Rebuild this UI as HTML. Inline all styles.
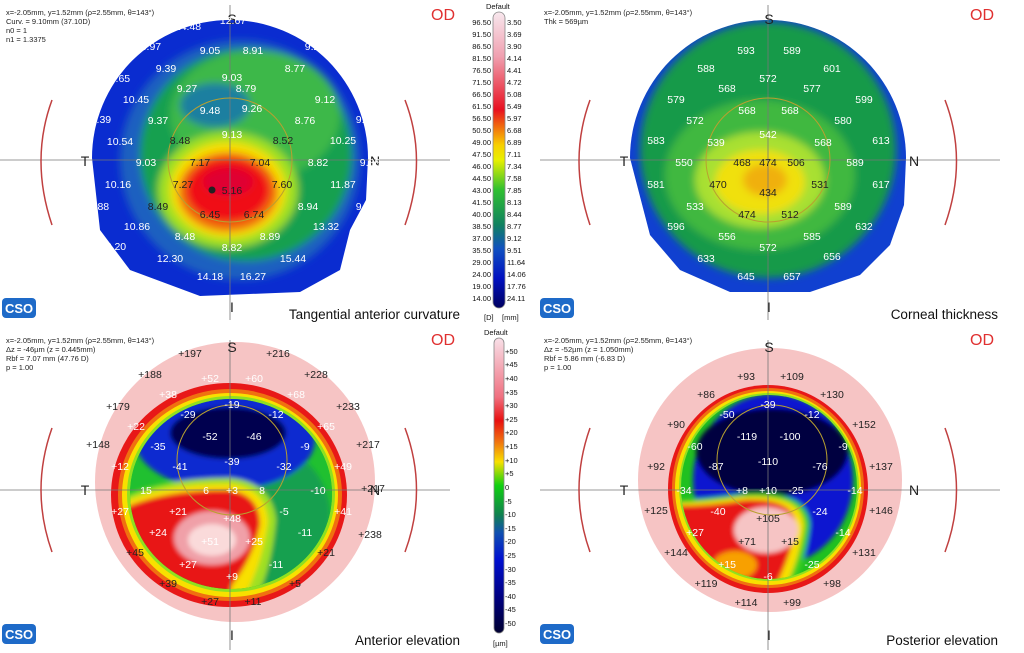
<!DOCTYPE html>
<html><head><meta charset="utf-8"><style>
body{margin:0;background:#fff;}
svg{display:block;font-family:"Liberation Sans",sans-serif;}
.w{fill:#fff;font-size:10.5px;text-anchor:middle;}
.k{fill:#222;font-size:10.5px;text-anchor:middle;}
.h{fill:#222;font-size:7.5px;}
.od{fill:#e03030;font-size:16px;}
.tt{fill:#111;font-size:13.5px;text-anchor:end;}
.lb{fill:#111;font-size:7.5px;}
.ax{fill:#222;font-size:14px;text-anchor:middle;}
</style></head><body>
<svg width="1024" height="653" viewBox="0 0 1024 653">
<defs>
<filter id="b" x="-20%" y="-20%" width="140%" height="140%"><feGaussianBlur stdDeviation="4"/></filter>
<filter id="b2" x="-20%" y="-20%" width="140%" height="140%"><feGaussianBlur stdDeviation="2.5"/></filter>
<clipPath id="c1"><path d="M92,158 A138,138 0 0 1 368,158 L366,200 350,230 340,270 300,292 200,296 130,270 100,230 Z"/></clipPath>
<clipPath id="c2"><path d="M630,158 A138,138 0 0 1 906,158 L904,205 890,245 860,275 810,292 730,292 680,270 650,235 Z"/></clipPath>
<clipPath id="c3"><ellipse cx="231" cy="494" rx="101" ry="95"/></clipPath>
<clipPath id="c4"><ellipse cx="769" cy="487" rx="88" ry="92"/></clipPath>
<linearGradient id="g1" x1="0" y1="0" x2="0" y2="1">
<stop offset="0" stop-color="#f8e8ee"/><stop offset=".15" stop-color="#f0a0b0"/><stop offset=".33" stop-color="#e81020"/><stop offset=".38" stop-color="#f06010"/><stop offset=".45" stop-color="#f8d000"/><stop offset=".5" stop-color="#e8f000"/><stop offset=".6" stop-color="#30c030"/><stop offset=".72" stop-color="#108060"/><stop offset=".8" stop-color="#1050c0"/><stop offset=".9" stop-color="#0010c0"/><stop offset="1" stop-color="#000060"/></linearGradient>
<linearGradient id="g2" x1="0" y1="0" x2="0" y2="1">
<stop offset="0" stop-color="#f8e0e8"/><stop offset=".2" stop-color="#f07080"/><stop offset=".28" stop-color="#e81010"/><stop offset=".35" stop-color="#f07010"/><stop offset=".42" stop-color="#f8e000"/><stop offset=".5" stop-color="#10d010"/><stop offset=".6" stop-color="#108050"/><stop offset=".66" stop-color="#1050b0"/><stop offset=".75" stop-color="#0010d0"/><stop offset=".88" stop-color="#000080"/><stop offset="1" stop-color="#000030"/></linearGradient>
</defs>

<!-- Q1 map -->
<g clip-path="url(#c1)"><rect x="80" y="10" width="300" height="300" fill="#0a2cd0"/>
<g filter="url(#b)">
<circle cx="240" cy="160" r="120" fill="#1a60c0"/>
<circle cx="246" cy="155" r="106" fill="#18a050"/>
<ellipse cx="255" cy="115" rx="85" ry="65" fill="#3cb848"/>
<ellipse cx="215" cy="105" rx="35" ry="22" fill="#1a7fa0"/>
<ellipse cx="228" cy="190" rx="70" ry="58" fill="#a0e020"/>
<ellipse cx="228" cy="190" rx="58" ry="48" fill="#f8e000"/>
<ellipse cx="228" cy="192" rx="50" ry="40" fill="#f07010"/>
<ellipse cx="228" cy="190" rx="42" ry="32" fill="#f01018"/>
<ellipse cx="228" cy="182" rx="25" ry="14" fill="#e00030"/>
</g></g>
<!-- Q2 map -->
<g clip-path="url(#c2)"><rect x="620" y="10" width="300" height="300" fill="#1040d0"/>
<g filter="url(#b)">
<circle cx="768" cy="150" r="128" fill="#189a48"/>
<ellipse cx="760" cy="175" rx="95" ry="75" fill="#40b840"/>
<ellipse cx="760" cy="180" rx="65" ry="48" fill="#a8e030"/>
<ellipse cx="760" cy="182" rx="45" ry="32" fill="#f0e010"/>
<ellipse cx="765" cy="180" rx="22" ry="16" fill="#f0b010"/>
</g></g>
<!-- Q3 map -->
<circle cx="235" cy="482" r="140" fill="#f6c4c4"/>
<ellipse cx="229" cy="495" rx="118" ry="112" fill="#e81818"/>
<ellipse cx="230" cy="495" rx="112" ry="106" fill="#f07010"/>
<ellipse cx="230" cy="495" rx="108" ry="102" fill="#f8e000"/>
<ellipse cx="231" cy="494" rx="104" ry="98" fill="#90e020"/>
<ellipse cx="231" cy="494" rx="101" ry="95" fill="#20c030"/>
<g clip-path="url(#c3)">
<rect x="120" y="390" width="220" height="210" fill="#20c030"/>
<g filter="url(#b2)">
<ellipse cx="250" cy="515" rx="80" ry="75" fill="#18a050"/>
<ellipse cx="225" cy="440" rx="90" ry="50" fill="#0a2ad0"/>
<ellipse cx="228" cy="433" rx="58" ry="26" fill="#000050"/>
<path d="M110,505 Q150,478 230,478 Q272,482 276,520 Q272,560 262,585 L248,610 L110,610 Z" fill="#a0e020"/>
<path d="M110,510 Q150,484 230,484 Q266,488 268,522 Q262,560 250,585 L238,610 L110,610 Z" fill="#f8e000"/>
<path d="M110,516 Q150,490 228,490 Q260,494 260,525 Q252,560 232,585 L225,610 L110,610 Z" fill="#e81818"/>
<ellipse cx="212" cy="538" rx="38" ry="27" fill="#f0a0a8"/>
<ellipse cx="212" cy="540" rx="24" ry="16" fill="#fadada"/>
</g></g>
<!-- Q4 map -->
<circle cx="770" cy="480" r="132" fill="#f6c4c4"/>
<ellipse cx="768" cy="489" rx="100" ry="104" fill="#e81818"/>
<ellipse cx="768" cy="488" rx="96" ry="100" fill="#f07010"/>
<ellipse cx="768" cy="488" rx="93" ry="97" fill="#f8e000"/>
<ellipse cx="769" cy="487" rx="90" ry="94" fill="#90e020"/>
<ellipse cx="769" cy="487" rx="88" ry="92" fill="#20c020"/>
<g clip-path="url(#c4)">
<g filter="url(#b2)">
<ellipse cx="773" cy="480" rx="80" ry="86" fill="#0818d0"/>
<ellipse cx="772" cy="452" rx="76" ry="44" fill="#000040"/>
<path d="M668,500 Q700,500 740,494 Q808,488 810,525 Q805,570 785,600 L668,600 Z" fill="#40d020"/>
<path d="M672,503 Q705,503 742,497 Q803,493 804,526 Q798,568 778,600 L672,600 Z" fill="#f8e000"/>
<path d="M676,506 Q710,506 745,500 Q797,498 796,528 Q788,566 768,600 L676,600 Z" fill="#e81818"/>
<ellipse cx="766" cy="530" rx="32" ry="23" fill="#f6c4c4"/>
<ellipse cx="735" cy="565" rx="22" ry="14" fill="#f8a000"/>
</g></g>

<!-- crosshairs & arcs -->
<g stroke="#777" stroke-width="0.8" fill="none">
<line x1="0" y1="160" x2="450" y2="160"/><line x1="230" y1="5" x2="230" y2="320"/>
<line x1="540" y1="160" x2="1000" y2="160"/><line x1="768" y1="5" x2="768" y2="320"/>
<line x1="0" y1="490" x2="450" y2="490"/><line x1="230" y1="340" x2="230" y2="650"/>
<line x1="540" y1="490" x2="1000" y2="490"/><line x1="768" y1="340" x2="768" y2="650"/>
</g>
<g stroke="#b8a030" stroke-width="1" fill="none">
<circle cx="230" cy="160" r="62"/><circle cx="768" cy="160" r="62"/>
<circle cx="232" cy="460" r="55"/><circle cx="772" cy="460" r="55"/>
</g>
<g stroke="#c04040" stroke-width="1.5" fill="none">
<path d="M52,100 Q30,160 52,225"/><path d="M405,100 Q428,160 405,225"/>
<path d="M590,100 Q568,160 590,225"/><path d="M945,100 Q968,160 945,225"/>
<path d="M52,428 Q30,490 52,552"/><path d="M405,428 Q428,490 405,552"/>
<path d="M590,428 Q568,490 590,552"/><path d="M945,428 Q968,490 945,552"/>
</g>
<circle cx="212" cy="190" r="3.5" fill="#222"/>

<!-- axis letters -->
<text class="ax" x="232" y="24">S</text><text class="ax" x="85" y="166">T</text><text class="ax" x="375" y="166">N</text><text class="ax" x="232" y="312">I</text>
<text class="ax" x="769" y="24">S</text><text class="ax" x="624" y="166">T</text><text class="ax" x="914" y="166">N</text><text class="ax" x="769" y="312">I</text>
<text class="ax" x="232" y="352">S</text><text class="ax" x="85" y="495">T</text><text class="ax" x="375" y="495">N</text><text class="ax" x="232" y="640">I</text>
<text class="ax" x="769" y="352">S</text><text class="ax" x="624" y="495">T</text><text class="ax" x="914" y="495">N</text><text class="ax" x="769" y="640">I</text>

<!-- headers -->
<text class="h" x="6" y="15">x=-2.05mm, y=1.52mm (ρ=2.55mm, θ=143°)</text>
<text class="h" x="6" y="24">Curv. = 9.10mm (37.10D)</text>
<text class="h" x="6" y="33">n0 = 1</text><text class="h" x="6" y="42">n1 = 1.3375</text>
<text class="h" x="544" y="15">x=-2.05mm, y=1.52mm (ρ=2.55mm, θ=143°)</text>
<text class="h" x="544" y="24">Thk = 569µm</text>
<text class="h" x="6" y="343">x=-2.05mm, y=1.52mm (ρ=2.55mm, θ=143°)</text>
<text class="h" x="6" y="352">Δz = -46µm (z = 0.445mm)</text>
<text class="h" x="6" y="361">Rbf = 7.07 mm (47.76 D)</text><text class="h" x="6" y="370">p = 1.00</text>
<text class="h" x="544" y="343">x=-2.05mm, y=1.52mm (ρ=2.55mm, θ=143°)</text>
<text class="h" x="544" y="352">Δz = -52µm (z = 1.050mm)</text>
<text class="h" x="544" y="361">Rbf = 5.86 mm (-6.83 D)</text><text class="h" x="544" y="370">p = 1.00</text>
<text class="od" x="431" y="20">OD</text><text class="od" x="970" y="20">OD</text>
<text class="od" x="431" y="345">OD</text><text class="od" x="970" y="345">OD</text>
<text class="tt" x="460" y="319">Tangential anterior curvature</text>
<text class="tt" x="998" y="319">Corneal thickness</text>
<text class="tt" x="460" y="645">Anterior elevation</text>
<text class="tt" x="998" y="645">Posterior elevation</text>
<g fill="#1e6ac8"><rect x="2" y="298" width="34" height="20" rx="4"/><rect x="540" y="298" width="34" height="20" rx="4"/><rect x="2" y="624" width="34" height="20" rx="4"/><rect x="540" y="624" width="34" height="20" rx="4"/></g>
<g fill="#fff" font-size="13" font-weight="bold"><text x="5" y="313">CSO</text><text x="543" y="313">CSO</text><text x="5" y="639">CSO</text><text x="543" y="639">CSO</text></g>

<!-- Q1 numbers -->
<g class="w">
<text x="188" y="30">14.48</text><text x="233" y="24">12.67</text><text x="148" y="50">15.97</text><text x="210" y="54">9.05</text><text x="253" y="54">8.91</text><text x="315" y="50">9.26</text>
<text x="166" y="72">9.39</text><text x="232" y="81">9.03</text><text x="295" y="72">8.77</text><text x="117" y="82">15.65</text>
<text x="187" y="92">9.27</text><text x="246" y="92">8.79</text><text x="136" y="103">10.45</text><text x="210" y="114">9.48</text><text x="252" y="112">9.26</text><text x="325" y="103">9.12</text>
<text x="98" y="123">13.39</text><text x="158" y="124">9.37</text><text x="305" y="124">8.76</text><text x="366" y="123">9.28</text>
<text x="120" y="145">10.54</text><text x="232" y="138">9.13</text><text x="343" y="144">10.25</text>
<text x="146" y="166">9.03</text><text x="318" y="166">8.82</text><text x="370" y="166">9.86</text>
<text x="118" y="188">10.16</text><text x="343" y="188">11.87</text><text x="96" y="210">10.88</text><text x="308" y="210">8.94</text><text x="366" y="210">9.78</text>
<text x="137" y="230">10.86</text><text x="326" y="230">13.32</text><text x="113" y="250">12.20</text><text x="170" y="262">12.30</text><text x="293" y="262">15.44</text><text x="210" y="280">14.18</text><text x="253" y="280">16.27</text>
<text x="185" y="240">8.48</text><text x="270" y="240">8.89</text><text x="232" y="251">8.82</text>
</g>
<g class="k"><text x="180" y="144">8.48</text><text x="283" y="144">8.52</text><text x="200" y="166">7.17</text><text x="260" y="166">7.04</text>
<text x="183" y="188">7.27</text><text x="232" y="194">5.16</text><text x="282" y="188">7.60</text><text x="158" y="210">8.49</text><text x="210" y="218">6.45</text><text x="254" y="218">6.74</text></g>

<!-- Q2 numbers -->
<g class="w">
<text x="746" y="54">593</text><text x="792" y="54">589</text><text x="706" y="72">588</text><text x="832" y="72">601</text>
<text x="768" y="82">572</text><text x="727" y="92">568</text><text x="812" y="92">577</text><text x="676" y="103">579</text><text x="864" y="103">599</text>
<text x="695" y="124">572</text><text x="747" y="114">568</text><text x="790" y="114">568</text><text x="843" y="124">580</text>
<text x="768" y="138">542</text><text x="656" y="144">583</text><text x="716" y="146">539</text><text x="823" y="146">568</text><text x="881" y="144">613</text>
<text x="684" y="166">550</text><text x="855" y="166">589</text><text x="656" y="188">581</text><text x="881" y="188">617</text>
<text x="695" y="210">533</text><text x="843" y="210">589</text><text x="676" y="230">596</text><text x="727" y="240">556</text><text x="768" y="251">572</text><text x="812" y="240">585</text><text x="864" y="230">632</text>
<text x="706" y="262">633</text><text x="832" y="260">656</text><text x="746" y="280">645</text><text x="792" y="280">657</text>
</g>
<g class="k"><text x="742" y="166">468</text><text x="768" y="166">474</text><text x="796" y="166">506</text><text x="718" y="188">470</text><text x="768" y="196">434</text><text x="820" y="188">531</text><text x="747" y="218">474</text><text x="790" y="218">512</text></g>

<!-- Q3 numbers -->
<g class="k">
<text x="190" y="357">+197</text><text x="278" y="357">+216</text><text x="150" y="378">+188</text><text x="316" y="378">+228</text><text x="118" y="410">+179</text><text x="348" y="410">+233</text>
<text x="98" y="448">+148</text><text x="368" y="448">+217</text><text x="373" y="492">+217</text><text x="370" y="538">+238</text>
<text x="135" y="556">+45</text><text x="168" y="587">+39</text><text x="210" y="605">+27</text><text x="253" y="605">+11</text><text x="295" y="587">+5</text><text x="326" y="556">+21</text>
</g>
<g class="w">
<text x="210" y="382">+52</text><text x="254" y="382">+60</text><text x="168" y="398">+38</text><text x="296" y="398">+68</text><text x="136" y="430">+22</text><text x="326" y="430">+65</text>
<text x="188" y="418">-29</text><text x="232" y="408">-19</text><text x="276" y="418">-12</text><text x="210" y="440">-52</text><text x="254" y="440">-46</text><text x="158" y="450">-35</text><text x="305" y="450">-9</text>
<text x="180" y="470">-41</text><text x="232" y="465">-39</text><text x="284" y="470">-32</text><text x="120" y="470">+12</text><text x="343" y="470">+49</text>
<text x="146" y="494">15</text><text x="206" y="494">6</text><text x="232" y="494">+3</text><text x="262" y="494">8</text><text x="318" y="494">-10</text>
<text x="120" y="515">+27</text><text x="178" y="515">+21</text><text x="232" y="522">+48</text><text x="284" y="515">-5</text><text x="343" y="515">+41</text>
<text x="158" y="536">+24</text><text x="210" y="545">+51</text><text x="254" y="545">+25</text><text x="305" y="536">-11</text><text x="188" y="568">+27</text><text x="276" y="568">-11</text><text x="232" y="580">+9</text>
</g>

<!-- Q4 numbers -->
<g class="k">
<text x="746" y="380">+93</text><text x="792" y="380">+109</text><text x="706" y="398">+86</text><text x="832" y="398">+130</text><text x="676" y="428">+90</text><text x="864" y="428">+152</text>
<text x="656" y="470">+92</text><text x="881" y="470">+137</text><text x="656" y="514">+125</text><text x="881" y="514">+146</text><text x="676" y="556">+144</text><text x="864" y="556">+131</text>
<text x="706" y="587">+119</text><text x="832" y="587">+98</text><text x="746" y="606">+114</text><text x="792" y="606">+99</text><text x="768" y="522">+105</text><text x="747" y="545">+71</text><text x="790" y="545">+15</text>
</g>
<g class="w">
<text x="727" y="418">-50</text><text x="768" y="408">-39</text><text x="812" y="418">-12</text><text x="695" y="450">-60</text><text x="747" y="440">-119</text><text x="790" y="440">-100</text><text x="843" y="450">-9</text>
<text x="716" y="470">-87</text><text x="768" y="465">-110</text><text x="820" y="470">-76</text><text x="684" y="494">-34</text><text x="742" y="494">+8</text><text x="768" y="494">+10</text><text x="796" y="494">-25</text><text x="855" y="494">-14</text>
<text x="718" y="515">-40</text><text x="820" y="515">-24</text><text x="695" y="536">+27</text><text x="843" y="536">-14</text><text x="727" y="568">+15</text><text x="812" y="568">-25</text><text x="768" y="580">-6</text>
</g>

<!-- colorbar 1 -->
<text class="lb" x="486" y="9">Default</text>
<rect x="493" y="12" width="12" height="296" rx="6" fill="url(#g1)" stroke="#888" stroke-width="0.8"/>
<g class="lb" text-anchor="end">
<text x="491" y="25">96.50</text><text x="491" y="37">91.50</text><text x="491" y="49">86.50</text><text x="491" y="61">81.50</text><text x="491" y="73">76.50</text><text x="491" y="85">71.50</text><text x="491" y="97">66.50</text><text x="491" y="109">61.50</text><text x="491" y="121">56.50</text><text x="491" y="133">50.50</text><text x="491" y="145">49.00</text><text x="491" y="157">47.50</text><text x="491" y="169">46.00</text><text x="491" y="181">44.50</text><text x="491" y="193">43.00</text><text x="491" y="205">41.50</text><text x="491" y="217">40.00</text><text x="491" y="229">38.50</text><text x="491" y="241">37.00</text><text x="491" y="253">35.50</text><text x="491" y="265">29.00</text><text x="491" y="277">24.00</text><text x="491" y="289">19.00</text><text x="491" y="301">14.00</text>
</g>
<g class="lb">
<text x="507" y="25">3.50</text><text x="507" y="37">3.69</text><text x="507" y="49">3.90</text><text x="507" y="61">4.14</text><text x="507" y="73">4.41</text><text x="507" y="85">4.72</text><text x="507" y="97">5.08</text><text x="507" y="109">5.49</text><text x="507" y="121">5.97</text><text x="507" y="133">6.68</text><text x="507" y="145">6.89</text><text x="507" y="157">7.11</text><text x="507" y="169">7.34</text><text x="507" y="181">7.58</text><text x="507" y="193">7.85</text><text x="507" y="205">8.13</text><text x="507" y="217">8.44</text><text x="507" y="229">8.77</text><text x="507" y="241">9.12</text><text x="507" y="253">9.51</text><text x="507" y="265">11.64</text><text x="507" y="277">14.06</text><text x="507" y="289">17.76</text><text x="507" y="301">24.11</text>
<text x="484" y="320">[D]</text><text x="502" y="320">[mm]</text>
</g>
<!-- colorbar 2 -->
<text class="lb" x="484" y="335">Default</text>
<rect x="494" y="338" width="10" height="295" rx="5" fill="url(#g2)" stroke="#888" stroke-width="0.8"/>
<g class="lb">
<text x="505" y="354">+50</text><text x="505" y="367">+45</text><text x="505" y="381">+40</text><text x="505" y="395">+35</text><text x="505" y="408">+30</text><text x="505" y="422">+25</text><text x="505" y="435">+20</text><text x="505" y="449">+15</text><text x="505" y="463">+10</text><text x="505" y="476">+5</text><text x="505" y="490">0</text><text x="505" y="504">-5</text><text x="505" y="517">-10</text><text x="505" y="531">-15</text><text x="505" y="544">-20</text><text x="505" y="558">-25</text><text x="505" y="572">-30</text><text x="505" y="585">-35</text><text x="505" y="599">-40</text><text x="505" y="612">-45</text><text x="505" y="626">-50</text>
<text x="493" y="646">[µm]</text>
</g>
</svg>
</body></html>
